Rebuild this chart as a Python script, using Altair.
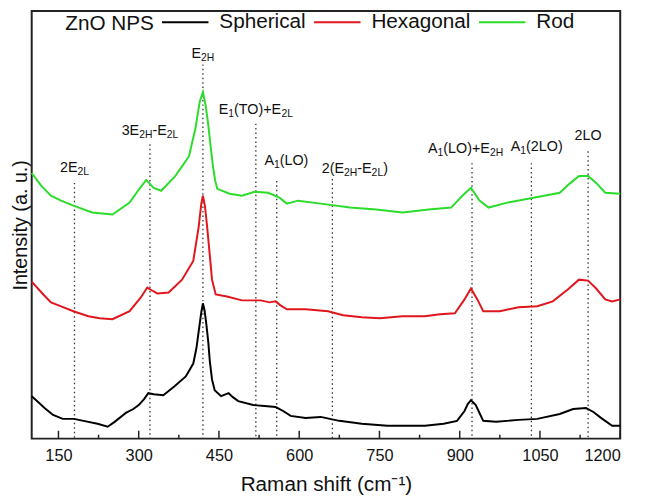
import re
import altair as alt
import pandas as pd

# ---------------- layout constants ----------------
W, H = 596, 433
X_DOMAIN = [100, 1200]
Y_DOMAIN = [0, 433]
FONT = "Liberation Sans"

# ---------------- data ----------------
SAMPLES = ["Spherical", "Hexagonal", "Rod"]
COLORS = ["#000000", "#e0161c", "#2bdc2b"]
LEGEND_TITLE = "ZnO NPS"

black_x = [100, 112, 124, 140, 158, 179, 197, 223, 242, 255, 276, 290, 300, 310, 318, 328, 346, 367,
           388, 402, 408, 412, 417, 420, 423, 426, 430, 433, 437, 442, 454, 468, 476, 486, 514, 535,
           556, 570, 584, 612, 640, 675, 717, 765, 835, 870, 895, 909, 915, 921, 930, 937, 944, 968,
           1010, 1045, 1087, 1112, 1136, 1150, 1164, 1185, 1200]
black_y = [43, 37, 31, 24, 20, 20, 18, 15, 12, 17, 26, 30, 34, 40, 46, 45, 44, 53,
           63, 76, 92, 108, 128, 137, 130, 118, 98, 78, 60, 49, 43, 46, 42, 38, 34, 33,
           32, 28, 23, 21, 22, 18, 15, 13, 13, 15, 18, 28, 35, 39, 34, 26, 18, 17,
           19, 20, 25, 30, 31, 27, 21, 13, 13]

red_x = [100, 120, 136, 155, 178, 206, 227, 251, 283, 304, 316, 325, 335, 356, 381, 402, 412, 417,
         420, 424, 428, 433, 437, 444, 465, 493, 528, 545, 556, 565, 577, 612, 654, 682, 717, 751,
         793, 835, 863, 891, 909, 921, 933, 944, 975, 1010, 1045, 1074, 1102, 1123, 1140, 1155,
         1172, 1185, 1200]
red_y = [159, 147, 138, 134, 129, 124, 122, 121, 129, 143, 153, 150, 147, 148, 161, 180, 214, 238,
         246, 235, 214, 185, 161, 146, 144, 140, 140, 138, 139, 135, 131, 131, 129, 125, 123, 122,
         124, 124, 126, 127, 141, 152, 141, 129, 129, 133, 134, 139, 151, 161, 160, 152,
         141, 139, 141]

green_x = [100, 118, 136, 155, 178, 213, 251, 283, 300, 314, 328, 342, 367, 380, 394, 406, 414, 420,
           425, 430, 434, 439, 443, 447, 470, 493, 517, 542, 563, 577, 598, 640, 695, 744, 793, 842,
           884, 905, 921, 937, 954, 989, 1038, 1087, 1105, 1123, 1140, 1155, 1172, 1200]
green_y = [269, 256, 246, 241, 236, 229, 227, 239, 252, 262, 254, 251, 265, 275, 286, 314, 341, 351,
           338, 318, 298, 275, 261, 253, 248, 246, 250, 249, 244, 238, 241, 238, 234, 232, 229, 232,
           234, 246, 254, 241, 234, 239, 244, 249, 258, 266, 266, 259, 249, 248]

MAJOR_TICKS = [150, 300, 450, 600, 750, 900, 1050, 1200]
MINOR_TICKS = [225, 375, 525, 675, 825, 975, 1125]

ANN_POS = [180, 321, 420, 519, 558, 662, 923, 1034, 1140]
ANN_TOP = [259, 298, 379, 319, 261, 263, 279, 279, 291]
ANN_LABEL_X = [180, 321, 420, 519, 576, 704, 911, 1044, 1140]
ANN_LABEL_Y = [274, 311, 389, 333, 281, 273, 293, 295, 306]
ANN_TEXT = ["2E_{2L}", "3E_{2H}-E_{2L}", "E_{2H}", "E_{1}(TO)+E_{2L}", "A_{1}(LO)",
            "2(E_{2H}-E_{2L})", "A_{1}(LO)+E_{2H}", "A_{1}(2LO)", "2LO"]

# ---------------- tables ----------------
rows = []
for name, xs, ys in zip(SAMPLES, [black_x, red_x, green_x], [black_y, red_y, green_y]):
    for i, (xv, yv) in enumerate(zip(xs, ys)):
        rows.append({"shift": xv, "intensity": yv, "sample": name, "order": i})
df = pd.DataFrame(rows)

MAIN_FS, SUB_FS = 14.5, 10.5
WIDTHS = {c: 556 for c in "0123456789"}
WIDTHS.update({"A": 667, "E": 667, "H": 722, "L": 556, "O": 778, "T": 611,
               "(": 333, ")": 333, "+": 584, "-": 333, " ": 278})


def text_w(s, fs):
    return sum(WIDTHS.get(c, 556) for c in s) * fs / 1000.0


px_to_data = (X_DOMAIN[1] - X_DOMAIN[0]) / W
seg_rows = []
for lx, ly, txt in zip(ANN_LABEL_X, ANN_LABEL_Y, ANN_TEXT):
    parts = re.split(r"(_\{[^}]*\})", txt)
    segs = []
    for p in parts:
        if not p:
            continue
        if p.startswith("_{"):
            segs.append((p[2:-1], True))
        else:
            segs.append((p, False))
    total = sum(text_w(s, SUB_FS if sub else MAIN_FS) for s, sub in segs)
    cur = -total / 2.0
    for s, sub in segs:
        seg_rows.append({"sx": lx + cur * px_to_data, "sy": ly, "t": s, "sub": sub})
        cur += text_w(s, SUB_FS if sub else MAIN_FS)
seg_df = pd.DataFrame(seg_rows)

ann_df = pd.DataFrame({"pos": ANN_POS, "top": ANN_TOP, "base": [Y_DOMAIN[0]] * len(ANN_POS)})

x_scale = alt.Scale(domain=X_DOMAIN, nice=False, zero=False)
y_scale = alt.Scale(domain=Y_DOMAIN, nice=False, zero=False)

lines = alt.Chart(df).mark_line(strokeWidth=2).encode(
    x=alt.X("shift:Q", scale=x_scale,
            axis=alt.Axis(values=MAJOR_TICKS, format="d", ticks=False, domain=False, grid=False,
                          labelFontSize=16.5, labelPadding=9, labelColor="#111",
                          title="Raman shift (cm⁻¹)", titleFontSize=21,
                          titleFontWeight="normal", titlePadding=10, titleColor="#111")),
    y=alt.Y("intensity:Q", scale=y_scale,
            axis=alt.Axis(labels=False, ticks=False, domain=False, grid=False,
                          title="Intensity (a. u.)", titleFontSize=20,
                          titleFontWeight="normal", titlePadding=1, titleColor="#111")),
    color=alt.Color("sample:N", scale=alt.Scale(domain=SAMPLES, range=COLORS),
                    legend=alt.Legend(orient="none", legendX=131, legendY=-13.5,
                                      direction="horizontal", title=None,
                                      labelFontSize=21, labelColor="#111",
                                      labelOffset=10, columnPadding=4,
                                      symbolType="stroke", symbolSize=2209,
                                      symbolStrokeWidth=2, padding=0)),
    order="order:Q",
)

legend_title = alt.Chart(pd.DataFrame({"t": [LEGEND_TITLE]})).mark_text(
    align="left", baseline="middle", fontSize=21, color="#111").encode(
    x=alt.value(34), y=alt.value(13), text="t:N")

dotted = alt.Chart(ann_df).mark_rule(strokeDash=[1.5, 3], color="#333", strokeWidth=1.3).encode(
    x="pos:Q", y="top:Q", y2="base:Q")

major = alt.Chart(pd.DataFrame({"shift": MAJOR_TICKS})).mark_rule(
    color="#222", strokeWidth=1.5).encode(x="shift:Q", y=alt.value(H), y2=alt.value(H - 8))
minor = alt.Chart(pd.DataFrame({"shift": MINOR_TICKS})).mark_rule(
    color="#222", strokeWidth=1.5).encode(x="shift:Q", y=alt.value(H), y2=alt.value(H - 4))

main_txt = alt.Chart(seg_df).transform_filter("!datum.sub").mark_text(
    align="left", baseline="middle", fontSize=MAIN_FS, color="#111").encode(
    x="sx:Q", y="sy:Q", text="t:N")
sub_txt = alt.Chart(seg_df).transform_filter("datum.sub").mark_text(
    align="left", baseline="middle", fontSize=SUB_FS, dy=4, color="#111").encode(
    x="sx:Q", y="sy:Q", text="t:N")

chart = alt.layer(dotted, major, minor, lines, main_txt, sub_txt, legend_title).properties(
    width=W, height=H,
    padding={"left": 24, "top": 0, "right": 17, "bottom": 55},
    autosize=alt.AutoSizeParams(type="none"),
).configure(font=FONT).configure_view(stroke="#222", strokeWidth=2)

chart.save("out.html", embed_options={"renderer": "svg", "actions": False})
